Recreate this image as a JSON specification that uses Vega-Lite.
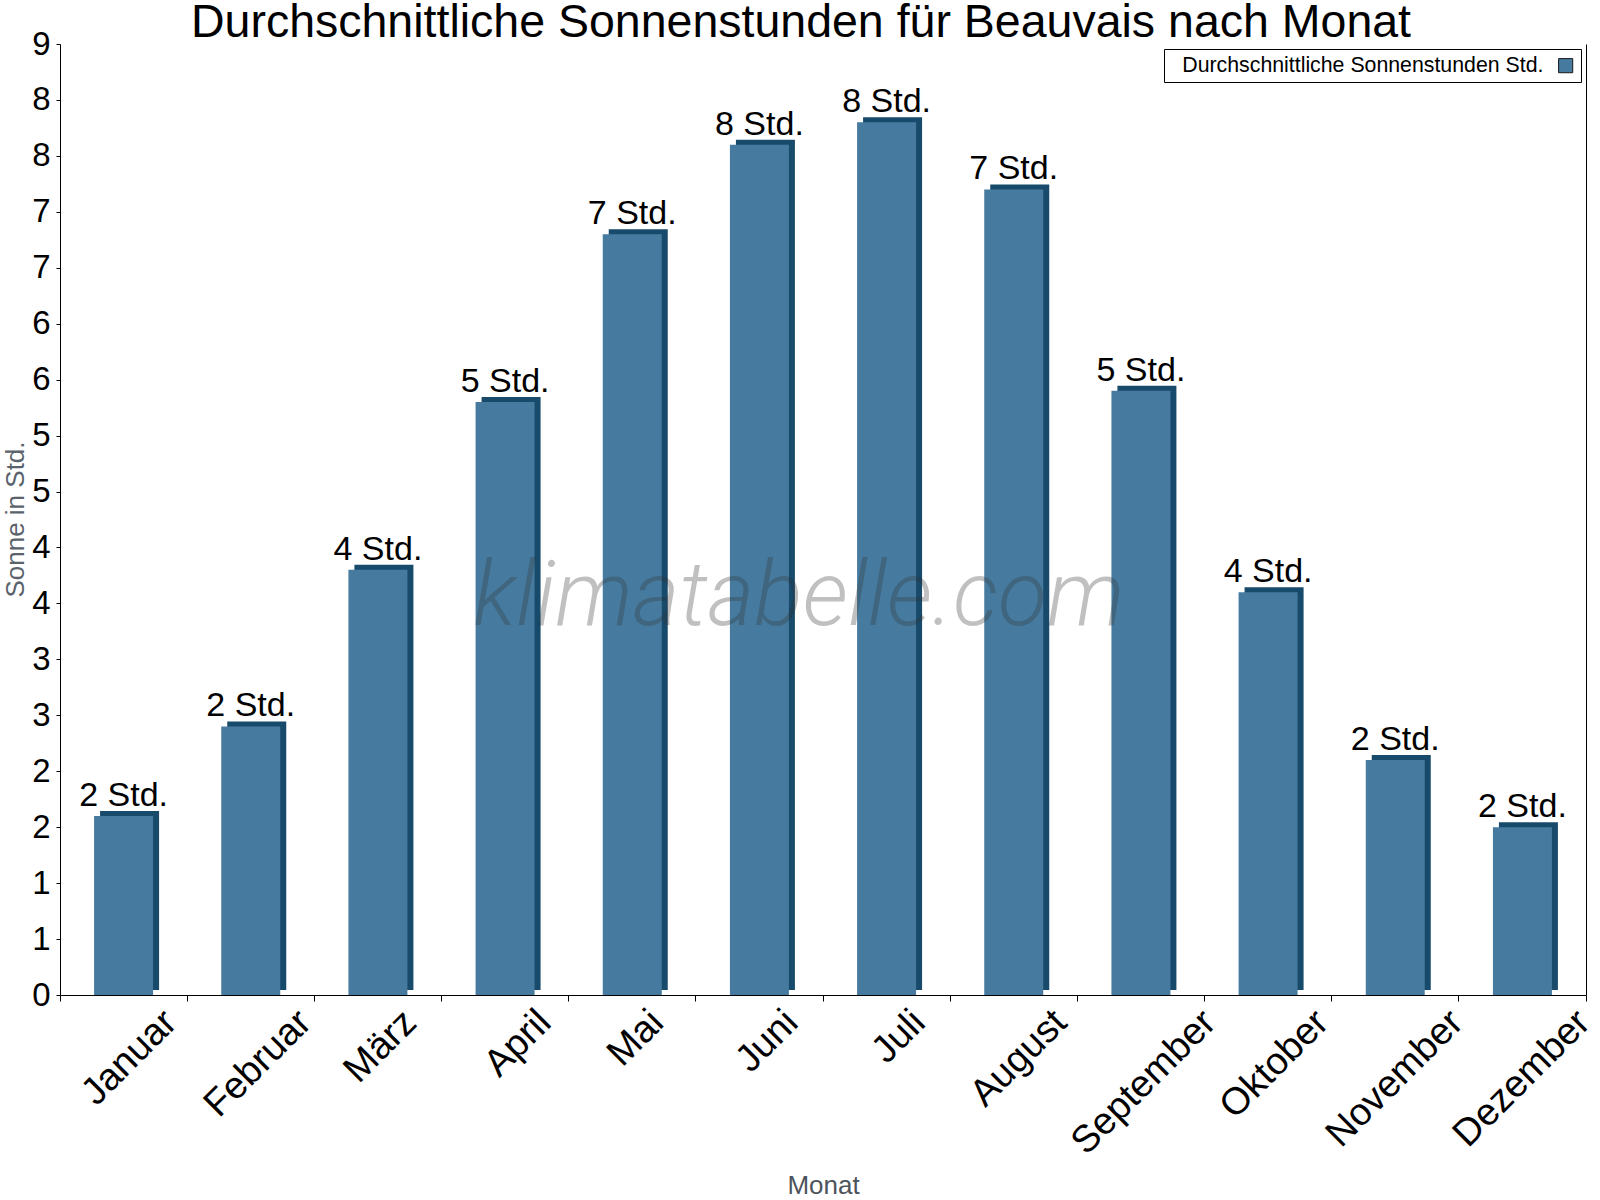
{
  "$schema": "https://vega.github.io/schema/vega-lite/v6.json",
  "width": 1526,
  "height": 951,
  "autosize": "none",
  "padding": {"left": 60, "top": 44, "right": 14, "bottom": 205},
  "background": "white",
  "title": {
    "text": "Durchschnittliche Sonnenstunden für Beauvais nach Monat",
    "font": "Liberation Sans",
    "fontSize": 46.5,
    "fontWeight": "normal",
    "color": "black",
    "anchor": "middle",
    "frame": "group",
    "dx": -22,
    "offset": -18
  },
  "data": {
    "values": [
      {"month": "Januar", "sun": 1.6, "label": "2 Std."},
      {"month": "Februar", "sun": 2.4, "label": "2 Std."},
      {"month": "März", "sun": 3.8, "label": "4 Std."},
      {"month": "April", "sun": 5.3, "label": "5 Std."},
      {"month": "Mai", "sun": 6.8, "label": "7 Std."},
      {"month": "Juni", "sun": 7.6, "label": "8 Std."},
      {"month": "Juli", "sun": 7.8, "label": "8 Std."},
      {"month": "August", "sun": 7.2, "label": "7 Std."},
      {"month": "September", "sun": 5.4, "label": "5 Std."},
      {"month": "Oktober", "sun": 3.6, "label": "4 Std."},
      {"month": "November", "sun": 2.1, "label": "2 Std."},
      {"month": "Dezember", "sun": 1.5, "label": "2 Std."}
    ]
  },
  "encoding": {
    "x": {
      "field": "month",
      "type": "nominal",
      "sort": null,
      "scale": {"paddingInner": 0, "paddingOuter": 0},
      "axis": {
        "title": "Monat",
        "titleFont": "Liberation Sans",
        "titleFontSize": 26,
        "titleFontWeight": "normal",
        "titleColor": "#4d545c",
        "titleX": 763,
        "titleY": 198,
        "titleAlign": "center",
        "titleBaseline": "alphabetic",
        "labelFont": "Liberation Sans",
        "labelFontSize": 38,
        "labelColor": "black",
        "labelAngle": -45,
        "labelAlign": "right",
        "labelBaseline": "top",
        "labelLimit": 0,
        "labelOffset": {"expr": "7.26 * length(datum.label) - 9.7"},
        "labelPadding": 2,
        "bandPosition": 1,
        "tickExtra": true,
        "tickSize": 6,
        "tickColor": "black",
        "domainColor": "black",
        "grid": false
      }
    }
  },
  "layer": [
    {
      "mark": {"type": "bar", "size": 59, "color": "#184a6b", "xOffset": 6, "yOffset": -5, "y2Offset": -5},
      "encoding": {
        "y": {"field": "sun", "type": "quantitative", "axis": null}
      }
    },
    {
      "mark": {"type": "bar", "size": 59},
      "encoding": {
        "y": {
          "field": "sun",
          "type": "quantitative",
          "scale": {"domain": [0, 8.5], "nice": false},
          "axis": {
            "values": [0, 0.5, 1, 1.5, 2, 2.5, 3, 3.5, 4, 4.5, 5, 5.5, 6, 6.5, 7, 7.5, 8, 8.5],
            "format": ".0f",
            "labelFont": "Liberation Sans",
            "labelFontSize": 33,
            "labelColor": "black",
            "labelPadding": 6,
            "tickSize": 4,
            "tickColor": "black",
            "domainColor": "black",
            "gridColor": "#c8c8c8",
            "gridDash": [2, 3],
            "title": "Sonne in Std.",
            "titleFont": "Liberation Sans",
            "titleFontSize": 26,
            "titleFontWeight": "normal",
            "titleColor": "#5a626b",
            "titleAngle": 270,
            "titleX": -45,
            "titleY": 475,
            "titleAlign": "center",
            "titleBaseline": "middle"
          }
        },
        "fill": {
          "datum": "Durchschnittliche Sonnenstunden Std.",
          "type": "nominal",
          "scale": {"range": ["#467b9f"]},
          "legend": {
            "title": null,
            "orient": "top-right",
            "offset": 5,
            "padding": 6,
            "strokeColor": "black",
            "fillColor": "white",
            "labelFont": "Liberation Sans",
            "labelFontSize": 21.3,
            "labelColor": "black",
            "labelLimit": 0,
            "labelOffset": -394,
            "symbolOffset": 385,
            "symbolType": "square",
            "symbolSize": 200,
            "symbolStrokeColor": "#1a1a1a",
            "symbolStrokeWidth": 1,
            "symbolOpacity": 1
          }
        }
      }
    },
    {
      "mark": {"type": "text", "font": "Liberation Sans", "fontSize": 34, "color": "black", "baseline": "alphabetic", "dy": -10},
      "encoding": {
        "y": {
          "field": "sun",
          "type": "quantitative",
          "axis": {"orient": "right", "labels": false, "ticks": false, "grid": false, "title": null, "domainColor": "black"}
        },
        "text": {"field": "label"}
      }
    },
    {
      "data": {"values": [{"month": "Juni", "wm": "klimatabelle.com"}]},
      "mark": {"type": "text", "font": "Roboto", "fontWeight": 300, "fontStyle": "italic", "fontSize": 90, "color": "#333333", "opacity": 0.3, "baseline": "middle", "align": "center"},
      "encoding": {
        "x": {"field": "month", "type": "nominal", "sort": null, "bandPosition": 0.81},
        "y": {"datum": 3.55, "type": "quantitative", "axis": null},
        "text": {"field": "wm"}
      }
    }
  ],
  "resolve": {"axis": {"y": "independent"}},
  "config": {
    "view": {"stroke": null}
  }
}
